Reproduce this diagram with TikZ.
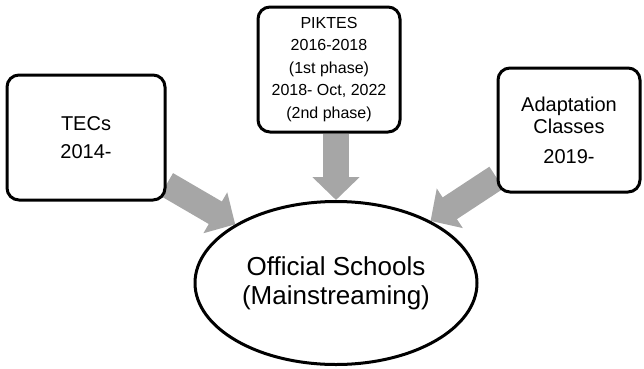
\documentclass[tikz,border=0pt]{standalone}
\usepackage{fontspec}
\setmainfont{Liberation Sans}
\usetikzlibrary{arrows.meta,backgrounds,shapes.geometric}

\tikzset{
  box/.style={draw, line width=3pt, rounded corners=12pt, fill=white,
    align=center, inner sep=0pt},
  bigarrow/.style={draw=black!35, line width=26pt,
    -{Triangle[width=46pt,length=23pt]}}
}

\begin{document}
\begin{tikzpicture}[x=1pt,y=1pt]
  \useasboundingbox (0,0) rectangle (644,368);

  % Boxes
  \node[box, minimum width=158pt, minimum height=125pt,
    font=\fontsize{20}{28}\selectfont] (tecs) at (86,230.5)
    {TECs\\2014-};
  \node[box, minimum width=142pt, minimum height=125pt,
    font=\fontsize{16}{22.5}\selectfont] (piktes) at (329,298.5)
    {PIKTES\\2016-2018\\(1st phase)\\2018- Oct, 2022\\(2nd phase)};
  \node[box, minimum width=142pt, minimum height=124pt,
    font=\fontsize{20}{22}\selectfont] (adapt) at (569,238)
    {Adaptation\\Classes\\[8pt]2019-};

  % Ellipse
  \node[draw, line width=3pt, ellipse, fill=white, minimum width=282pt,
    minimum height=163pt, inner sep=0pt, align=center,
    font=\fontsize{26}{29}\selectfont] (schools) at (336,85)
    {Official Schools\\(Mainstreaming)};

  % Arrows
  \begin{scope}[on background layer]
    \draw[bigarrow] (tecs) -- (schools);
    \draw[bigarrow] (schools.north |- piktes.south) -- (schools.north);
    \draw[bigarrow] (adapt) -- (schools);
  \end{scope}
\end{tikzpicture}
\end{document}
